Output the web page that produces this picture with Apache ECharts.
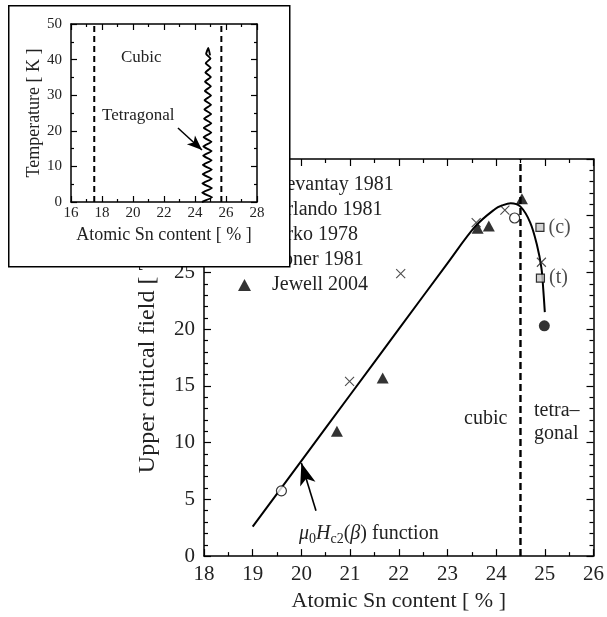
<!DOCTYPE html>
<html>
<head>
<meta charset="UTF-8">
<title>Upper critical field vs Sn content</title>
<script src="https://cdn.jsdelivr.net/npm/echarts@6/dist/echarts.min.js"></script>
<style>
html,body{margin:0;padding:0;background:#fff;}
#chart{width:607px;height:617px;}
</style>
</head>
<body>
<div id="chart"></div>
<script>
// main plot data: Bc2 [T] vs atomic Sn [%]
var devantay = [[20.99,15.4],[22.04,24.9],[23.59,29.4],[24.18,30.5],[24.93,25.9]];
var orlando = [[19.59,5.75],[24.38,29.8]];
var arko = [[24.9,28.97],[24.91,24.5]];
var arkoTags = ['(c)','(t)'];
var foner = [[24.99,20.3]];
var jewell = [[20.73,11.0],[21.67,15.7],[23.62,28.9],[23.85,29.1],[24.53,31.5]];
var fitCurve = [[19,2.6],[20,8.4],[21,14.2],[22,20.0],[23,25.8],[23.58,29.1],[23.98,30.6],[24.12,30.9],[24.3,31.1],[24.5,30.8],[24.7,29.4],[24.84,27.4],[24.93,25.4],[24.97,23.4],[25.0,21.5]];
var phaseLine = [[24.5,0],[24.5,35]];
var fitArrow = [[20.30,4.0],[20.0,8.2]];

// inset data: T [K] vs atomic Sn [%]
var insetLeftLine = [[17.5,0],[17.5,50]];
var insetRightLine = [[25.7,0],[25.7,50]];
var tetraHatch = [[24.45,0],[25.10,1.3],[24.47,2.6],[25.09,3.9],[24.48,5.2],[25.08,6.5],[24.50,7.8],[25.08,9.1],
  [24.51,10.4],[25.07,11.7],[24.53,13.0],[25.07,14.3],[24.54,15.6],[25.06,16.9],[24.56,18.2],[25.05,19.5],
  [24.57,20.8],[25.05,22.1],[24.59,23.4],[25.04,24.7],[24.61,26.0],[25.03,27.3],[24.62,28.6],[25.03,29.9],
  [24.64,31.2],[25.02,32.5],[24.65,33.8],[25.02,35.1],[24.67,36.4],[25.01,37.7],[24.69,39.0],[25.00,40.3],
  [24.72,41.6],[24.86,43.3],[24.97,41.2]];
var tetraArrow = [[22.9,20.8],[24.45,14.6]];

var legendNames = ['Devantay 1981','Orlando 1981','Arko 1978','Foner 1981','Jewell 2004'];

var serif = "'Liberation Serif', 'DejaVu Serif', serif";
var crossPath = 'path://M0,0L10,10M10,0L0,10';

function boxAxis(opt, showLabel, fs, margin, tickLen, minorLen, minorSplit, z){
	return Object.assign({
		axisLine:{onZero:false, lineStyle:{color:'#000', width:1.5}},
		axisTick:{inside:true, length:tickLen, lineStyle:{color:'#000', width:1.2}},
		minorTick:{show:true, splitNumber:minorSplit, length:minorLen, lineStyle:{color:'#000', width:1.2}},
		splitLine:{show:false},
		axisLabel:{show:showLabel, color:'#222', fontFamily:serif, fontSize:fs, margin:margin},
		z:z
	}, opt);
}

var chart = echarts.init(document.getElementById('chart'));
var option = {
	animation:false,
	backgroundColor:'#fff',
	grid:[
		{left:204, top:159, right:12, bottom:54},
		{left:71, top:24, width:186, height:178}
	],
	xAxis:[
		boxAxis({type:'value', min:18, max:26, interval:1, gridIndex:0, position:'bottom',
			name:'Atomic Sn content [ % ]', nameLocation:'middle', nameGap:28,
			nameTextStyle:{fontFamily:serif, fontSize:22, color:'#222'}}, true, 21, 8, 7, 4, 2, 0),
		boxAxis({type:'value', min:18, max:26, interval:1, gridIndex:0, position:'top'}, false, 21, 8, 7, 4, 2, 0),
		boxAxis({type:'value', min:16, max:28, interval:2, gridIndex:1, position:'bottom',
			name:'Atomic Sn content [ % ]', nameLocation:'middle', nameGap:24,
			nameTextStyle:{fontFamily:serif, fontSize:18, color:'#222'}}, true, 15, 4, 6, 3, 2, 60),
		boxAxis({type:'value', min:16, max:28, interval:2, gridIndex:1, position:'top'}, false, 15, 4, 6, 3, 2, 60)
	],
	yAxis:[
		boxAxis({type:'value', min:0, max:35, interval:5, gridIndex:0, position:'left',
			name:'Upper critical field [ T ]', nameLocation:'middle', nameGap:44,
			nameTextStyle:{fontFamily:serif, fontSize:24, color:'#222'}}, true, 21, 9, 7, 4, 5, 0),
		boxAxis({type:'value', min:0, max:35, interval:5, gridIndex:0, position:'right'}, false, 21, 9, 7, 4, 5, 0),
		boxAxis({type:'value', min:0, max:50, interval:10, gridIndex:1, position:'left',
			name:'Temperature [ K ]', nameLocation:'middle', nameGap:28,
			nameTextStyle:{fontFamily:serif, fontSize:18, color:'#222'}}, true, 15, 9, 6, 3, 2, 60),
		boxAxis({type:'value', min:0, max:50, interval:10, gridIndex:1, position:'right'}, false, 15, 9, 6, 3, 2, 60)
	],
	legend:{
		data:legendNames,
		orient:'vertical',
		left:232, top:170,
		itemWidth:13, itemHeight:12, itemGap:5,
		textStyle:{fontFamily:serif, fontSize:20, color:'#222', padding:[0,0,0,16]},
		z:4
	},
	graphic:[
		{type:'rect', left:8, top:5, shape:{width:281, height:261},
			style:{fill:'#fff', stroke:'#000', lineWidth:1.5}, z:50},
		{type:'text', left:121, top:49, z:70,
			style:{text:'Cubic', fontFamily:serif, fontSize:17, fill:'#222'}},
		{type:'text', left:102, top:107, z:70,
			style:{text:'Tetragonal', fontFamily:serif, fontSize:17, fill:'#222'}},
		{type:'text', left:464, top:409, z:10,
			style:{text:'cubic', fontFamily:serif, fontSize:20, fill:'#222'}},
		{type:'text', left:534, top:399, z:10,
			style:{text:'tetra–\ngonal', fontFamily:serif, fontSize:20, lineHeight:23, fill:'#222'}},
		{type:'text', left:299, top:524, z:10,
			style:{
				text:'{i|μ}{s|0}{i|H}{s|c2}{n|(}{i|β}{n|) function}',
				rich:{
					i:{fontFamily:serif, fontSize:20, fontStyle:'italic', fill:'#222'},
					n:{fontFamily:serif, fontSize:20, fill:'#222'},
					s:{fontFamily:serif, fontSize:14, fill:'#222', padding:[10,0,0,0]}
				}
			}}
	],
	series:[
		{name:'fit', type:'line', data:fitCurve, smooth:0.35, showSymbol:false, symbol:'none',
			lineStyle:{color:'#000', width:2}, z:3, silent:true,
			markLine:{silent:true, symbol:['none','arrow'], symbolSize:[12,22],
				label:{show:false}, lineStyle:{color:'#000', width:1.6, type:'solid'},
				data:[[{coord:fitArrow[0]},{coord:fitArrow[1]}]]}},
		{name:'boundary', type:'line', data:phaseLine, symbol:'none',
			lineStyle:{color:'#000', width:2.4, type:[7,4]}, z:3, silent:true},
		{name:'Devantay 1981', type:'scatter', data:devantay, symbol:crossPath, symbolSize:9,
			itemStyle:{color:'#000', borderColor:'#222', borderWidth:1.1}, z:5},
		{name:'Orlando 1981', type:'scatter', data:orlando, symbol:'circle', symbolSize:10,
			itemStyle:{color:'#fff', borderColor:'#000', borderWidth:1.2}, z:5},
		{name:'Arko 1978', type:'scatter', symbol:'rect', symbolSize:8,
			data:arko.map(function(p,i){return {value:p, name:arkoTags[i]};}),
			itemStyle:{color:'#c8c8c8', borderColor:'#000', borderWidth:1.2}, z:5,
			label:{show:true, position:'right', distance:4, formatter:'{b}',
				fontFamily:serif, fontSize:20, color:'#222'}},
		{name:'Foner 1981', type:'scatter', data:foner, symbol:'circle', symbolSize:11,
			itemStyle:{color:'#000'}, z:5},
		{name:'Jewell 2004', type:'scatter', data:jewell, symbol:'triangle', symbolSize:[12,11],
			itemStyle:{color:'#000'}, z:5},
		// inset
		{name:'insetL', type:'line', xAxisIndex:2, yAxisIndex:2, data:insetLeftLine, symbol:'none',
			lineStyle:{color:'#000', width:2, type:[6,4]}, z:60, silent:true},
		{name:'insetR', type:'line', xAxisIndex:2, yAxisIndex:2, data:insetRightLine, symbol:'none',
			lineStyle:{color:'#000', width:2, type:[6,4]}, z:60, silent:true},
		{name:'tetra', type:'line', xAxisIndex:2, yAxisIndex:2, data:tetraHatch, symbol:'none', smooth:0.15,
			lineStyle:{color:'#000', width:1.9}, z:60, silent:true,
			markLine:{silent:true, z:65, symbol:['none','arrow'], symbolSize:[9,15],
				label:{show:false}, lineStyle:{color:'#000', width:1.5, type:'solid'},
				data:[[{coord:tetraArrow[0]},{coord:tetraArrow[1]}]]}}
	]
};
chart.setOption(option);
</script>
</body>
</html>
